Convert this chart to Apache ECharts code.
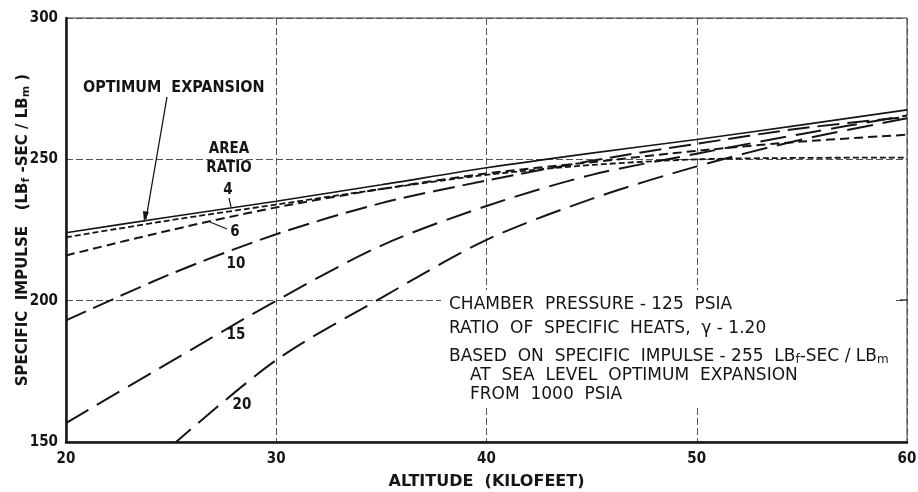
<!DOCTYPE html>
<html>
<head>
<meta charset="utf-8">
<script src="https://cdn.jsdelivr.net/npm/echarts@6/dist/echarts.min.js"></script>
<style>
html,body{margin:0;padding:0;background:#fff;}
#c{width:918px;height:492px;}
</style>
</head>
<body>
<div id="c"></div>
<script>
// Altitude (kilofeet)
var altitudes = [20, 25, 30, 35, 40, 45, 50, 55, 60];
// Specific impulse (LBf-SEC/LBm) for optimum expansion and each nozzle area ratio
var optimum = [224, 229.7, 235.2, 241, 247, 252.2, 257, 262.2, 267.5];
var ratio4  = [222.4, 228.5, 234, 239.5, 244.5, 248, 250, 250.5, 250.6];
var ratio6  = [216, 225, 233, 239.5, 245, 249, 253, 256.3, 258.7];
var ratio10 = [193, 209.5, 223.5, 234.5, 242.5, 249.5, 255.5, 261, 265];
var ratio15 = [156.7, 178.5, 200, 219.5, 233.5, 244.5, 252, 259, 265.5];
var ratio20 = [null, 148.5, 179, 201, 221.5, 236, 247.5, 257, 264.5];
var xTicks = [20, 30, 40, 50, 60];
var yTicks = [150, 200, 250, 300];

function pairs(vals){ return altitudes.map(function(a,i){ return [a, vals[i]]; }); }

var FONTC = "'DejaVu Sans Condensed','DejaVu Sans',sans-serif";
var FONT = "'DejaVu Sans',sans-serif";
var ink = '#151515';

var chart = echarts.init(document.getElementById('c'), null, {renderer:'canvas'});

function lineSeries(name, vals, dash, width){
  return {
    name: name, type: 'line', data: pairs(vals), smooth: 0.3,
    showSymbol: false, symbol: 'none', connectNulls: false, clip: true,
    lineStyle: {color: ink, width: width, type: dash},
    silent: true, animation: false
  };
}

var option = {
  animation: false,
  backgroundColor: '#fff',
  grid: {left: 66, right: 11, top: 18, bottom: 50, show: true, borderColor: '#333', borderWidth: 1,
         containLabel: false, outerBoundsMode: 'none'},
  xAxis: {
    type: 'value', min: 20, max: 60, interval: 10,
    name: 'ALTITUDE  (KILOFEET)', nameLocation: 'middle', nameGap: 32,
    nameTextStyle: {fontFamily: FONT, fontWeight: 'bold', fontSize: 16, color: ink},
    axisLine: {show: true, lineStyle: {color: ink, width: 2.5}},
    axisTick: {show: false},
    axisLabel: {fontFamily: FONTC, fontWeight: 'bold', fontSize: 15, color: ink, margin: 10,
      formatter: function(v){ return xTicks.indexOf(v) >= 0 ? String(v) : ''; }},
    splitLine: {show: true, lineStyle: {color: '#555', width: 1, type: [7, 3]}}
  },
  yAxis: {
    type: 'value', min: 150, max: 300, interval: 50,
    name: '{n|SPECIFIC  IMPULSE   (LB}{s|f}{n| -SEC / LB}{s|m}{n| )}',
    nameLocation: 'middle', nameGap: 34, nameRotate: 90, nameMoveOverlap: false,
    nameTextStyle: {
      rich: {
        n: {fontFamily: FONT, fontWeight: 'bold', fontSize: 15, color: ink},
        s: {fontFamily: FONT, fontWeight: 'bold', fontSize: 11, color: ink, padding: [7, 0, 0, 0]}
      }
    },
    axisLine: {show: true, lineStyle: {color: ink, width: 2.5}},
    axisTick: {show: false},
    axisLabel: {fontFamily: FONTC, fontWeight: 'bold', fontSize: 15, color: ink, margin: 8,
      formatter: function(v){ return yTicks.indexOf(v) >= 0 ? String(v) : ''; }},
    splitLine: {show: true, lineStyle: {color: '#555', width: 1, type: [7, 3]}}
  },
  series: [
    lineSeries('OPTIMUM EXPANSION', optimum, 'solid', 1.6),
    lineSeries('4', ratio4, [6, 3], 1.8),
    lineSeries('6', ratio6, [9, 5], 2),
    lineSeries('10', ratio10, [22, 8], 2),
    lineSeries('15', ratio15, [26, 10], 2),
    lineSeries('20', ratio20, [26, 10], 2)
  ],
  graphic: [
    {type: 'rect', shape: {x: 441, y: 290, width: 455, height: 117}, style: {fill: '#fff'}, z: 50},
    {type: 'text', x: 449, y: 296, z: 60, style: {text: 'CHAMBER  PRESSURE - 125  PSIA', font: '17px ' + FONT, fill: ink}},
    {type: 'text', x: 449, y: 320, z: 60, style: {text: 'RATIO  OF  SPECIFIC  HEATS,  \u03b3 - 1.20', font: '17px ' + FONT, fill: ink}},
    {type: 'text', x: 449, y: 347, z: 60, style: {
      text: '{n|BASED  ON  SPECIFIC  IMPULSE - 255  LB}{s|f}{n|-SEC / LB}{s|m}',
      rich: {n: {font: '17px ' + FONT, fill: ink}, s: {font: '12px ' + FONT, fill: ink, padding: [7,0,0,0]}}
    }},
    {type: 'text', x: 470, y: 367, z: 60, style: {text: 'AT  SEA  LEVEL  OPTIMUM  EXPANSION', font: '17px ' + FONT, fill: ink}},
    {type: 'text', x: 470, y: 386, z: 60, style: {text: 'FROM  1000  PSIA', font: '17px ' + FONT, fill: ink}},

    {type: 'text', x: 83, y: 80, z: 60, style: {text: 'OPTIMUM  EXPANSION', font: 'bold 16px ' + FONTC, fill: ink}},
    {type: 'line', z: 60, shape: {x1: 167, y1: 97, x2: 146, y2: 219}, style: {stroke: ink, lineWidth: 1.3}},
    {type: 'polygon', z: 60, shape: {points: [[144, 222], [143, 211], [149, 212]]}, style: {fill: ink}},

    {type: 'text', x: 229, y: 142, z: 60, style: {text: 'AREA', font: 'bold 15px ' + FONTC, fill: ink, align: 'center'}},
    {type: 'text', x: 229, y: 161, z: 60, style: {text: 'RATIO', font: 'bold 15px ' + FONTC, fill: ink, align: 'center'}},
    {type: 'text', x: 228, y: 183, z: 60, style: {text: '4', font: 'bold 15px ' + FONTC, fill: ink, align: 'center'}},
    {type: 'line', z: 60, shape: {x1: 229, y1: 198, x2: 231, y2: 207}, style: {stroke: ink, lineWidth: 1.2}},
    {type: 'text', x: 235, y: 225, z: 60, style: {text: '6', font: 'bold 15px ' + FONTC, fill: ink, align: 'center'}},
    {type: 'line', z: 60, shape: {x1: 227, y1: 229, x2: 210, y2: 222}, style: {stroke: ink, lineWidth: 1.2}},
    {type: 'text', x: 236, y: 257, z: 60, style: {text: '10', font: 'bold 15px ' + FONTC, fill: ink, align: 'center'}},
    {type: 'text', x: 236, y: 328, z: 60, style: {text: '15', font: 'bold 15px ' + FONTC, fill: ink, align: 'center'}},
    {type: 'text', x: 242, y: 398, z: 60, style: {text: '20', font: 'bold 15px ' + FONTC, fill: ink, align: 'center'}},
    {type: 'line', z: 60, shape: {x1: 900, y1: 300, x2: 907, y2: 300}, style: {stroke: ink, lineWidth: 1.2}}
  ]
};
chart.setOption(option);
</script>
</body>
</html>
